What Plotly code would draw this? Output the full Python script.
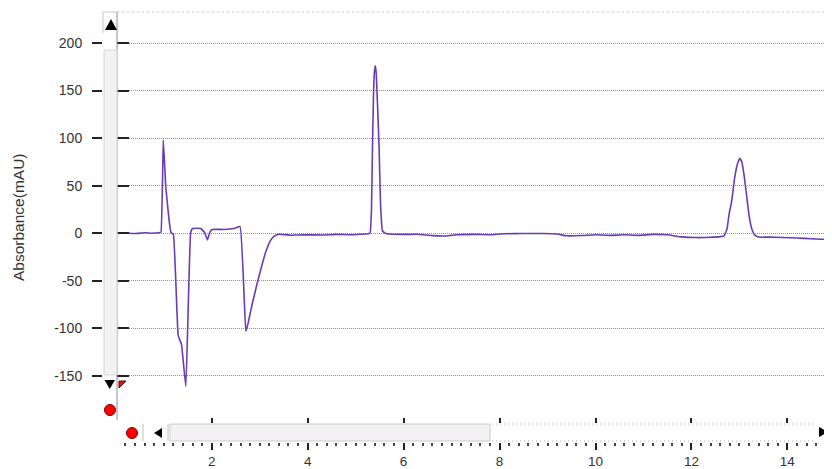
import plotly.graph_objects as go

# ---------------- data ----------------
time_min = [
    0.03, 0.20, 0.40, 0.60, 0.75, 0.90, 0.94, 0.99, 1.04, 1.11, 1.15, 1.20,
    1.30, 1.37, 1.46, 1.56, 1.60, 1.77, 1.85, 1.91, 1.96, 2.01, 2.26, 2.46,
    2.59, 2.71, 2.76, 2.85, 2.95, 3.06, 3.13, 3.22, 3.30, 3.40, 3.65, 3.80,
    4.00, 4.30, 4.60, 4.90, 5.10, 5.25, 5.30, 5.33, 5.35, 5.37, 5.39, 5.41,
    5.43, 5.46, 5.49, 5.52, 5.56, 5.63, 5.70, 6.00, 6.30, 6.60, 6.90, 7.10,
    7.50, 7.80, 8.10, 8.50, 8.90, 9.20, 9.40, 9.70, 10.00, 10.30, 10.60, 10.90,
    11.20, 11.50, 11.80, 12.10, 12.40, 12.60, 12.68, 12.74, 12.79, 12.83, 12.86, 12.90,
    12.96, 13.01, 13.05, 13.10, 13.15, 13.20, 13.26, 13.32, 13.41, 13.60, 13.90, 14.20,
    14.50, 14.70, 14.93, 15.10,
]
absorbance_mau = [
    0.0, 0.4, -0.3, 0.5, 0.1, 0.6, 1.0, 98.0, 50.0, 14.0, 0.7, -1.0,
    -107.0, -117.0, -161.0, 0.5, 5.0, 5.0, 1.0, -7.0, 1.0, 4.0, 4.0, 5.0,
    7.0, -103.0, -94.0, -73.0, -52.0, -31.0, -19.0, -8.0, -3.0, -1.0, -2.0, -1.8,
    -1.5, -1.8, -1.2, -1.5, -1.0, -0.5, 0.0, 25.0, 88.0, 141.0, 169.0, 176.0,
    167.0, 130.0, 88.0, 29.0, 2.4, -0.3, -0.8, -1.2, -1.0, -2.5, -2.8, -1.5,
    -1.2, -1.5, -0.5, -0.2, -0.3, -0.8, -2.6, -2.4, -1.5, -2.2, -1.6, -2.2,
    -1.2, -1.6, -3.8, -4.5, -4.2, -3.5, -2.8, 4.2, 21.7, 31.0, 42.0, 58.0,
    73.0, 78.8, 75.0, 60.0, 40.0, 19.0, 4.2, -2.0, -4.2, -4.0, -4.5, -5.0,
    -5.8, -6.2, -6.3, -6.4,
]
x_range = [0.025, 15.097]
y_range = [-219.4, 232.6]
y_tick_vals = [-150, -100, -50, 0, 50, 100, 150, 200]
y_tick_text = ["-150", "-100", "-50", "0", "50", "100", "150", "200"]
x_major_step = 2
x_minor_step = 0.2
y_title = "Absorbance(mAU)"

# ---------------- layout helpers ----------------
# coordinates below are given in screen pixels of the 832x469 window;
# the page body adds an 8px margin, so the figure origin sits at (8, 8).
W, H = 832, 469
OFF = 8
PLOT_L, PLOT_T, PLOT_B = 117, 12, 442


def fx(x):
    return (x - OFF) / W


def fy(y):
    return 1 - (y - OFF) / H


def tri(points, fill, line="rgba(0,0,0,0)"):
    path = "M " + " L ".join(f"{fx(a):.5f},{fy(b):.5f}" for a, b in points) + " Z"
    return dict(type="path", xref="paper", yref="paper", path=path,
                fillcolor=fill, line=dict(color=line, width=1), layer="above")


def rect(x0, y0, x1, y1, fill, line, width=1):
    return dict(type="rect", xref="paper", yref="paper",
                x0=fx(x0), x1=fx(x1), y0=fy(y1), y1=fy(y0),
                fillcolor=fill, line=dict(color=line, width=width), layer="above")


def seg(x0, y0, x1, y1, color, width=1, dash="solid"):
    return dict(type="line", xref="paper", yref="paper",
                x0=fx(x0), x1=fx(x1), y0=fy(y0), y1=fy(y1),
                line=dict(color=color, width=width, dash=dash), layer="above")


def circ(cx, cy, r, fill, line):
    return dict(type="circle", xref="paper", yref="paper",
                x0=fx(cx - r), x1=fx(cx + r), y0=fy(cy + r), y1=fy(cy - r),
                fillcolor=fill, line=dict(color=line, width=1), layer="above")


TICK_FONT = dict(family="Liberation Sans, Arial, sans-serif", size=14, color="#333333")
XTICK_FONT = dict(family="Liberation Sans, Arial, sans-serif", size=13.5, color="#333333")

fig = go.Figure()
fig.add_trace(go.Scatter(
    x=time_min, y=absorbance_mau, mode="lines",
    line=dict(color="#6a3cb4", width=1.6, shape="spline", smoothing=0.3),
    hoverinfo="skip", showlegend=False,
))
# helper traces so the secondary (tick-only) axes are drawn
fig.add_trace(go.Scatter(x=time_min[:1], y=absorbance_mau[:1], mode="lines",
                         xaxis="x2", yaxis="y", showlegend=False, hoverinfo="skip"))
fig.add_trace(go.Scatter(x=time_min[:1], y=absorbance_mau[:1], mode="lines",
                         xaxis="x", yaxis="y2", showlegend=False, hoverinfo="skip"))

x_dom = [fx(PLOT_L), 1.0]
y_dom = [fy(PLOT_B), fy(PLOT_T)]

fig.update_layout(
    template="none",
    width=W, height=H, autosize=False,
    margin=dict(l=0, r=0, t=0, b=0, pad=0),
    paper_bgcolor="white", plot_bgcolor="white",
    showlegend=False,
    xaxis=dict(
        domain=x_dom, range=x_range, tickmode="linear", tick0=0, dtick=x_major_step,
        ticks="outside", ticklen=7, tickwidth=2, tickcolor="#222222",
        minor=dict(tickmode="linear", tick0=0, dtick=x_minor_step, ticks="outside",
                   ticklen=3, tickwidth=2, tickcolor="#444444", showgrid=False),
        showgrid=False, zeroline=False, showline=False, automargin=False,
        tickfont=XTICK_FONT, ticklabelstandoff=0, fixedrange=True,
    ),
    xaxis2=dict(
        overlaying="x", matches="x", anchor="free", position=fy(417),
        range=x_range, tickmode="linear", tick0=0, dtick=x_major_step,
        ticks="outside", ticklen=5, tickwidth=2, tickcolor="#222222",
        showticklabels=False, showgrid=False, zeroline=False, showline=False,
        automargin=False, side="bottom",
    ),
    yaxis=dict(
        domain=y_dom, range=y_range, tickmode="array", tickvals=y_tick_vals,
        ticktext=y_tick_text, ticks="inside", ticklen=12, tickwidth=2,
        tickcolor="#222222", showticklabels=False,
        showgrid=True, gridcolor="#8f8f8f", gridwidth=1, griddash="1px,1px",
        zeroline=False, showline=False, automargin=False, fixedrange=True,
    ),
    yaxis2=dict(
        overlaying="y", matches="y", anchor="free", position=fx(102), side="left",
        range=y_range, tickmode="array", tickvals=y_tick_vals, ticktext=y_tick_text,
        ticks="outside", ticklen=10, tickwidth=2, tickcolor="#222222",
        showticklabels=True, tickfont=TICK_FONT, ticklabelstandoff=7,
        showgrid=False, zeroline=False, showline=False, automargin=False,
    ),
    annotations=[dict(
        text=y_title, xref="paper", yref="paper", x=fx(18), y=fy(217),
        textangle=-90, showarrow=False, xanchor="center", yanchor="middle",
        font=dict(family="Liberation Sans, Arial, sans-serif", size=15.5, color="#333333"),
    )],
)

shapes = [
    # top border of plot (dotted) and y axis line
    seg(117, 12, 840, 12, "#c4c4c4", 1, "2px,3px"),
    seg(117, 12, 117, 420, "#8c8c8c", 1),
    # vertical scrollbar
    seg(103, 12, 117, 12, "#c8c8c8", 1),
    seg(103, 12, 103, 33, "#c8c8c8", 1),
    rect(104, 50, 117, 375, "#f3f1f3", "#d8d8d8"),
    tri([(105, 30), (117, 30), (111, 19)], "#000000"),
    tri([(104.5, 380), (115, 380), (109.7, 389)], "#000000"),
    tri([(119, 381), (126, 381), (119, 388)], "#ee1111", "#551111"),
    circ(110, 410, 5.5, "#ff0000", "#7a0000"),
    # horizontal scrollbar
    circ(132, 433, 5.5, "#ff0000", "#7a0000"),
    seg(143, 424, 143, 441, "#c0c0c0", 1),
    seg(168, 424, 168, 441, "#c0c0c0", 1),
    tri([(162, 428), (162, 438), (154, 433)], "#000000"),
    rect(170, 424, 490, 441, "#f3f1f3", "#cccccc"),
    seg(492, 424, 815, 424, "#b0b0b0", 1, "1px,3px"),
    seg(492, 441, 815, 441, "#b0b0b0", 1, "1px,3px"),
    tri([(819, 427), (819, 437), (828, 432)], "#000000"),
]
fig.update_layout(shapes=shapes)

fig.write_html("out.html")
